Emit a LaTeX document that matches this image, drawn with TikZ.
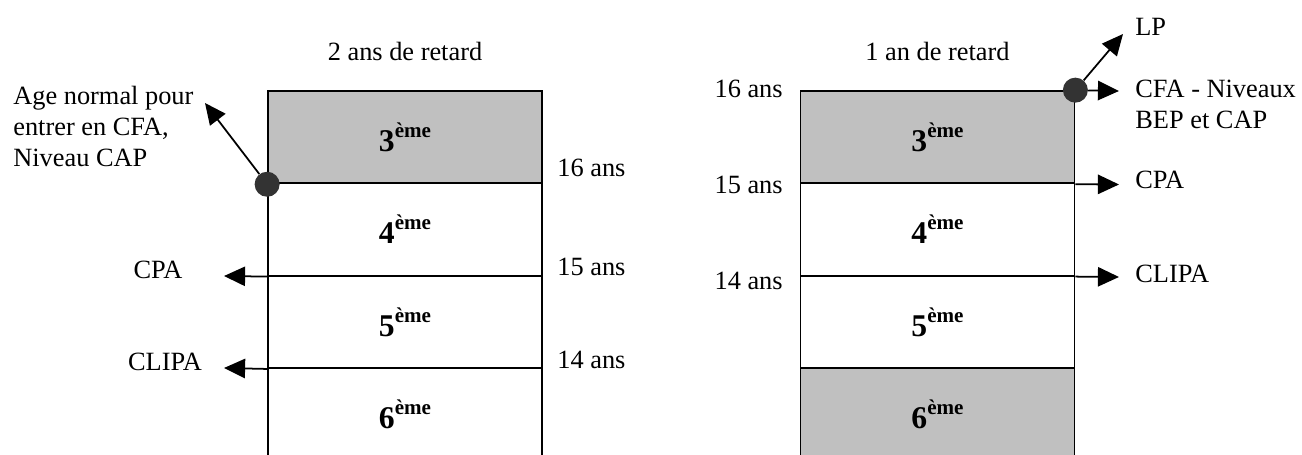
\documentclass[tikz,border=0pt]{standalone}
\usepackage{fontspec}
\setmainfont{Liberation Serif}
\usetikzlibrary{positioning,arrows.meta}
\definecolor{grisclair}{HTML}{C0C0C0}
\definecolor{grisfonce}{HTML}{333333}
\newcommand{\classe}[1]{#1\raisebox{8pt}{\fontsize{12}{12}\selectfont ème}}

\begin{document}
\begin{tikzpicture}[node distance=1.847cm,on grid,
    cell/.style={draw,line width=1pt,minimum width=5.48cm,minimum height=1.847cm,inner sep=0pt,font=\fontsize{18}{18}\selectfont\bfseries},
    lbl/.style={inner sep=0pt,font=\fontsize{15}{17.5}\selectfont},
    dot/.style={circle,fill=grisfonce,minimum size=0.5cm,inner sep=0pt},
    fleche/.style={-{Triangle[length=12pt,width=11pt]},line width=1pt}]
    \useasboundingbox (0,0) rectangle (26.04,-9.10);

    % 2 ans de retard
    \node[cell,fill=grisclair] (g_3) at (8.10,-2.744) {\classe{3}};
    \node[cell] [below=of g_3] (g_4) {\classe{4}};
    \node[cell] [below=of g_4] (g_5) {\classe{5}};
    \node[cell] [below=of g_5] (g_6) {\classe{6}};
    \node[lbl] [above=0.58cm of g_3.north] (g_titre) {2 ans de retard};

    \node[lbl,anchor=west] (g_16) at (11.14,-3.36) {16 ans};
    \node[lbl,anchor=west] (g_15) at (11.14,-5.34) {15 ans};
    \node[lbl,anchor=west] (g_14) at (11.14,-7.20) {14 ans};

    \node[lbl,align=left,anchor=north west] (g_age) at (0.26,-1.72) {Age normal pour\\entrer en CFA,\\Niveau CAP};
    \node[lbl] (g_cpa) at (3.16,-5.40) {CPA};
    \node[lbl] (g_clipa) at (3.30,-7.24) {CLIPA};

    \coordinate (t_age) at (4.10,-2.06);
    \coordinate (t_gcpa) at (4.48,-5.52);
    \coordinate (t_gclipa) at (4.48,-7.36);

    % 1 an de retard
    \node[cell,fill=grisclair] (d_3) at (18.75,-2.744) {\classe{3}};
    \node[cell] [below=of d_3] (d_4) {\classe{4}};
    \node[cell] [below=of d_4] (d_5) {\classe{5}};
    \node[cell,fill=grisclair] [below=of d_5] (d_6) {\classe{6}};
    \node[lbl] [above=0.58cm of d_3.north] (d_titre) {1 an de retard};

    \node[lbl,anchor=east] (d_16) at (15.66,-1.78) {16 ans};
    \node[lbl,anchor=east] (d_15) at (15.66,-3.70) {15 ans};
    \node[lbl,anchor=east] (d_14) at (15.66,-5.62) {14 ans};

    \node[lbl] [anchor=west] (d_lp) at (22.70,-0.53) {LP};
    \node[lbl,align=left,anchor=north west] (d_cfa) at (22.70,-1.60) {CFA - Niveaux\\BEP et CAP};
    \node[lbl,anchor=west] (d_cpa) at (22.70,-3.59) {CPA};
    \node[lbl,anchor=west] (d_clipa) at (22.70,-5.47) {CLIPA};

    \coordinate (t_lp) at (22.46,-0.68);
    \coordinate (t_cfa) at (22.38,-1.82);
    \coordinate (t_dcpa) at (22.38,-3.69);
    \coordinate (t_dclipa) at (22.38,-5.54);

    % points
    \node[dot] (p_g) at (g_3.south west) {};
    \node[dot] (p_d) at (d_3.north east) {};

    \path[fleche]
    (p_g) edge (t_age)
    (g_4.south west) edge (t_gcpa)
    (g_5.south west) edge (t_gclipa)
    (p_d) edge (t_lp)
    (p_d) edge (t_cfa)
    (d_3.south east) edge (t_dcpa)
    (d_4.south east) edge (t_dclipa)
    ;
\end{tikzpicture}
\end{document}
